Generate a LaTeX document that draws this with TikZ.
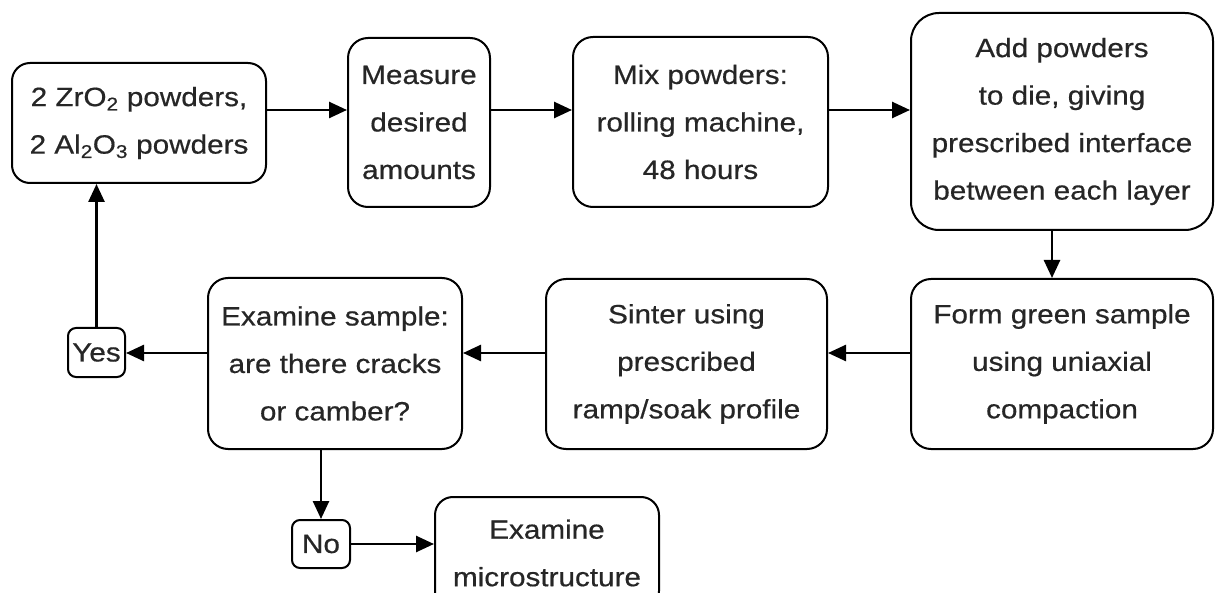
\documentclass[tikz,border=0pt]{standalone}
\usepackage{fontspec}
\setmainfont[FakeStretch=1.12,FakeBold=0.5]{Liberation Sans}
\usetikzlibrary{arrows.meta}
\begin{document}
\begin{tikzpicture}[x=1pt,y=-1pt,
  box/.style={draw, line width=2pt, rounded corners=20pt, align=center, inner sep=0pt,
    text=black!85, font=\fontsize{26.5}{47.5}\selectfont},
  small/.style={box, rounded corners=8pt},
  arr/.style={line width=2.6pt, -{Triangle[length=18pt,width=16pt]}}]
\clip (0,0) rectangle (1215,593);
\useasboundingbox (0,0) rectangle (1215,593);
\fill[white] (0,0) rectangle (1215,593);
\coordinate (r1) at (0,110);
\coordinate (r2) at (0,353);
\node[box, rounded corners=18pt, minimum width=254pt, minimum height=120pt] (b1) at (139,123)
  {2 ZrO\textsubscript{2} powders,\\2 Al\textsubscript{2}O\textsubscript{3} powders};
\node[box, minimum width=142pt, minimum height=169pt] (b2) at (419,122.5)
  {Measure\\desired\\amounts};
\node[box, minimum width=255pt, minimum height=170pt] (b3) at (700.5,122)
  {Mix powders:\\rolling machine,\\48 hours};
\node[box, rounded corners=28pt, minimum width=302pt, minimum height=217pt] (b4) at (1062,121.5)
  {Add powders\\to die, giving\\prescribed interface\\between each layer};
\node[box, minimum width=302pt, minimum height=170pt] (b5) at (1062,364)
  {Form green sample\\using uniaxial\\compaction};
\node[box, minimum width=281pt, minimum height=170pt] (b6) at (686.5,364)
  {Sinter using\\prescribed\\ramp/soak profile};
\node[box, minimum width=254pt, minimum height=171pt] (b7) at (335,363.5)
  {Examine sample:\\are there cracks\\or camber?};
\node[small, minimum width=57pt, minimum height=49pt] (yes) at (96.5,352.5) {Yes};
\node[small, minimum width=58pt, minimum height=48pt] (no) at (321,544) {No};
\node[box, rounded corners=18pt, minimum width=224pt, minimum height=112pt] (b10) at (547,553)
  {Examine\\microstructure};
\coordinate (c45) at (1052,0);
\draw[arr] (b1.east |- r1) -- (b2.west |- r1);
\draw[arr] (b2.east |- r1) -- (b3.west |- r1);
\draw[arr] (b3.east |- r1) -- (b4.west |- r1);
\draw[arr] (b4.south -| c45) -- (b5.north -| c45);
\draw[arr] (b5.west |- r2) -- (b6.east |- r2);
\draw[arr] (b6.west |- r2) -- (b7.east |- r2);
\draw[arr] (b7.west |- r2) -- (yes.east |- r2);
\draw[arr] (yes.north) -- (b1.south -| yes.north);
\draw[arr] (b7.south -| no.north) -- (no.north);
\draw[arr] (no.east) -- (b10.west |- no.east);
\end{tikzpicture}
\end{document}
